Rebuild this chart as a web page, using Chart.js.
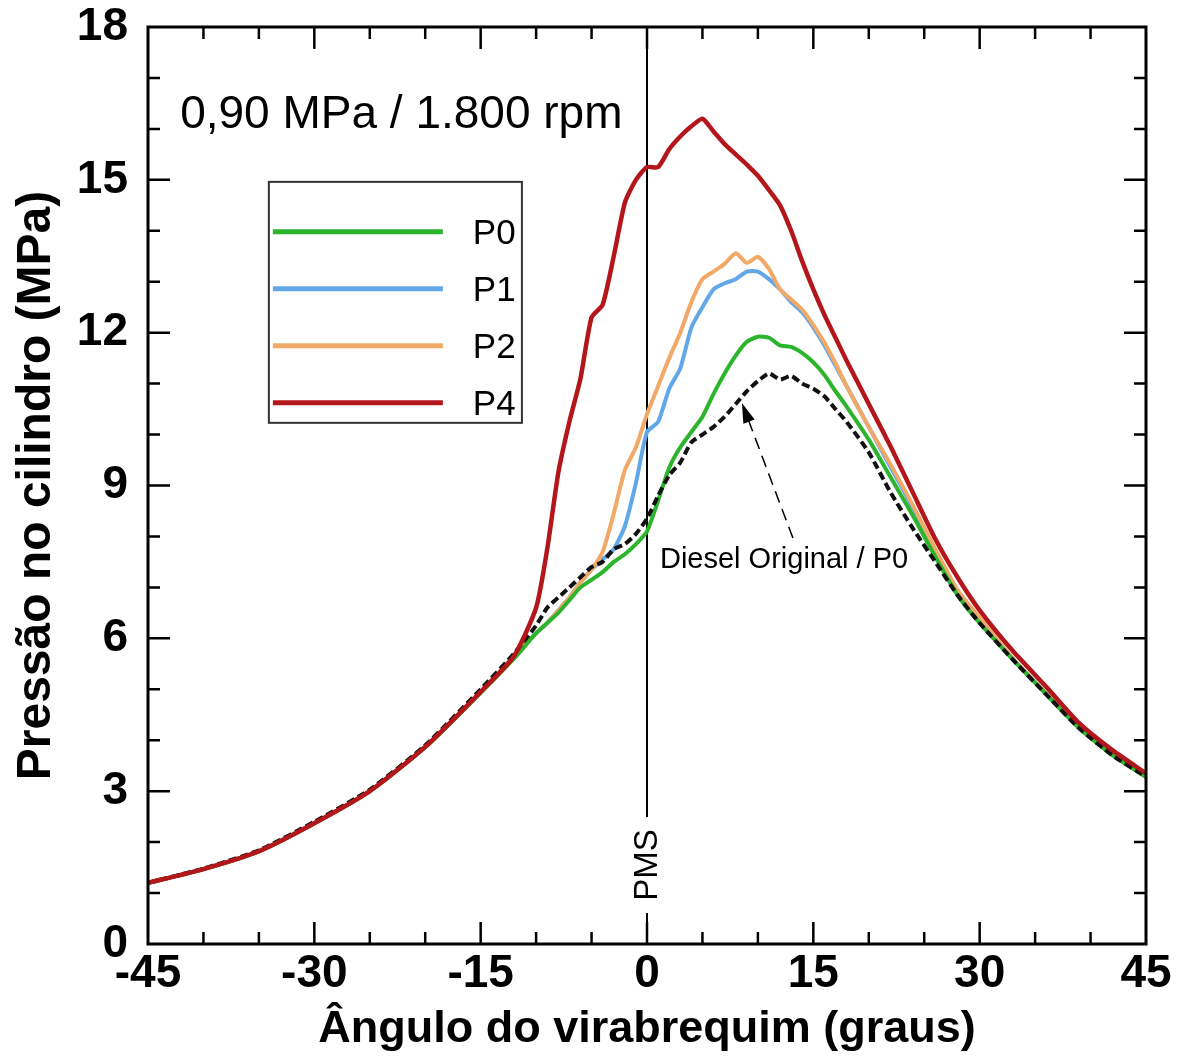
<!DOCTYPE html>
<html>
<head>
<meta charset="utf-8">
<script src="https://cdn.jsdelivr.net/npm/chart.js@4.4.0/dist/chart.umd.min.js"></script>
<style>
  body { margin: 0; background: #fff; }
</style>
</head>
<body>
<canvas id="chart1" width="1186" height="1059"></canvas>
<script>
// crank angle (graus) and cylinder pressure (MPa)
const angles = [-45, -40, -35, -30, -25, -20, -15, -12,
  -10, -9, -8, -7, -6, -5, -4, -3, -2, -1, 0, 1, 2, 3, 4, 5, 6, 7, 8, 9,
  10, 11, 12, 13, 14, 15, 16, 17, 18, 20, 22, 24, 26, 28, 30, 33, 36, 39, 42, 45];

const p0 = [1.2, 1.47, 1.82, 2.37, 3.0, 3.86, 4.93, 5.6,
  6.1, 6.3, 6.5, 6.75, 7.0, 7.15, 7.3, 7.5, 7.65, 7.85, 8.1, 8.7, 9.35, 9.75, 10.05, 10.35, 10.8, 11.2, 11.55, 11.82,
  11.92, 11.9, 11.75, 11.72, 11.6, 11.42, 11.17, 10.85, 10.55, 9.9, 9.15, 8.4, 7.6, 6.85, 6.3, 5.58, 4.9, 4.23, 3.7, 3.28];

const p1 = [1.2, 1.47, 1.82, 2.37, 3.0, 3.87, 4.95, 5.65,
  6.1, 6.3, 6.55, 6.8, 7.1, 7.35, 7.55, 7.75, 8.2, 9.05, 10.05, 10.25, 10.9, 11.3, 12.1, 12.5, 12.85, 12.97, 13.05, 13.2,
  13.2, 13.05, 12.85, 12.6, 12.4, 12.1, 11.75, 11.35, 10.95, 10.15, 9.35, 8.55, 7.7, 6.9, 6.38, 5.6, 4.92, 4.25, 3.72, 3.28];

const p2 = [1.2, 1.47, 1.82, 2.37, 3.0, 3.87, 4.95, 5.65,
  6.1, 6.3, 6.55, 6.8, 7.1, 7.35, 7.7, 8.45, 9.3, 9.75, 10.4, 10.95, 11.5, 12.0, 12.6, 13.05, 13.2, 13.35, 13.56, 13.37,
  13.49, 13.25, 12.85, 12.65, 12.45, 12.15, 11.8, 11.4, 10.95, 10.15, 9.4, 8.6, 7.75, 6.95, 6.4, 5.6, 4.92, 4.25, 3.72, 3.28];

const p4 = [1.2, 1.47, 1.82, 2.37, 3.0, 3.87, 4.95, 5.65,
  6.6, 7.75, 9.25, 10.25, 11.1, 12.3, 12.55, 13.5, 14.55, 15.0, 15.25, 15.25, 15.6, 15.85, 16.05, 16.2, 15.95, 15.7, 15.5, 15.3,
  15.08, 14.8, 14.5, 14.0, 13.4, 12.85, 12.35, 11.9, 11.45, 10.6, 9.75, 8.85, 7.95, 7.2, 6.55, 5.75, 5.05, 4.33, 3.8, 3.35];

const diesel = [1.2, 1.48, 1.84, 2.4, 3.03, 3.9, 5.0, 5.7,
  6.25, 6.6, 6.8, 7.0, 7.2, 7.4, 7.5, 7.75, 7.85, 8.05, 8.35, 8.8, 9.2, 9.45, 9.85, 10.0, 10.15, 10.35, 10.6, 10.85,
  11.05, 11.2, 11.08, 11.15, 11.0, 10.9, 10.75, 10.5, 10.25, 9.65, 8.85, 8.15, 7.5, 6.85, 6.3, 5.58, 4.9, 4.23, 3.7, 3.28];

const xTicks = [-45, -30, -15, 0, 15, 30, 45];
const yTicks = [0, 3, 6, 9, 12, 15, 18];

function pts(vals) {
    return angles.map(function(a, i) { return { x: a, y: vals[i] }; });
}

const FONT = '"Liberation Sans", Arial, Helvetica, sans-serif';

// frame, inward ticks, PMS line, annotations, legend box
const decorations = {
    id: 'decorations',
    beforeDatasetsDraw(chart) {
        const ctx = chart.ctx;
        const x = chart.scales.x;
        const a = chart.chartArea;
        ctx.save();
        // PMS line
        const x0 = x.getPixelForValue(0);
        ctx.strokeStyle = '#000';
        ctx.lineWidth = 2;
        ctx.beginPath();
        ctx.moveTo(x0, a.top);
        ctx.lineTo(x0, a.bottom);
        ctx.stroke();
        ctx.restore();
    },
    afterDraw(chart) {
        const ctx = chart.ctx;
        const x = chart.scales.x, y = chart.scales.y;
        const a = chart.chartArea;
        ctx.save();
        ctx.strokeStyle = '#000';
        ctx.lineWidth = 2.5;
        // x ticks, bottom and top
        for (let v = -40; v <= 40; v += 5) {
            const px = x.getPixelForValue(v);
            const len = (v % 15 === 0) ? 22 : 12;
            ctx.beginPath();
            ctx.moveTo(px, a.bottom); ctx.lineTo(px, a.bottom - len);
            ctx.moveTo(px, a.top); ctx.lineTo(px, a.top + len);
            ctx.stroke();
        }
        // y ticks, left and right
        for (let v = 1; v <= 17; v += 1) {
            const py = y.getPixelForValue(v);
            const len = (v % 3 === 0) ? 22 : 12;
            ctx.beginPath();
            ctx.moveTo(a.left, py); ctx.lineTo(a.left + len, py);
            ctx.moveTo(a.right, py); ctx.lineTo(a.right - len, py);
            ctx.stroke();
        }
        // frame
        ctx.lineWidth = 3;
        ctx.strokeRect(a.left, a.top, a.right - a.left, a.bottom - a.top);

        // PMS label over the vertical line
        const x0 = x.getPixelForValue(0);
        const yp = y.getPixelForValue(1.55);
        ctx.fillStyle = '#fff';
        ctx.fillRect(x0 - 14, yp - 48, 28, 96);
        ctx.translate(x0, yp);
        ctx.rotate(-Math.PI / 2);
        ctx.fillStyle = '#000';
        ctx.font = '33px ' + FONT;
        ctx.textAlign = 'center';
        ctx.textBaseline = 'middle';
        ctx.fillText('PMS', 0, 1);
        ctx.setTransform(1, 0, 0, 1, 0, 0);

        // condition text
        ctx.font = '46px ' + FONT;
        ctx.textAlign = 'left';
        ctx.textBaseline = 'alphabetic';
        ctx.fillText('0,90 MPa / 1.800 rpm', x.getPixelForValue(-42.1), y.getPixelForValue(16.02));

        // Diesel Original arrow
        const tx = x.getPixelForValue(13.16), ty = y.getPixelForValue(7.97);
        const hx = x.getPixelForValue(8.56), hy = y.getPixelForValue(10.62);
        const ang = Math.atan2(hy - ty, hx - tx);
        ctx.lineWidth = 1.5;
        ctx.setLineDash([12, 7]);
        ctx.beginPath();
        ctx.moveTo(tx, ty);
        ctx.lineTo(hx - 16 * Math.cos(ang), hy - 16 * Math.sin(ang));
        ctx.stroke();
        ctx.setLineDash([]);
        ctx.beginPath();
        ctx.moveTo(hx, hy);
        ctx.lineTo(hx - 20 * Math.cos(ang) + 6 * Math.sin(ang), hy - 20 * Math.sin(ang) - 6 * Math.cos(ang));
        ctx.lineTo(hx - 20 * Math.cos(ang) - 6 * Math.sin(ang), hy - 20 * Math.sin(ang) + 6 * Math.cos(ang));
        ctx.closePath();
        ctx.fill();
        ctx.font = '29px ' + FONT;
        ctx.fillText('Diesel Original / P0', x.getPixelForValue(1.17), y.getPixelForValue(7.38));

        // legend box
        const lx1 = x.getPixelForValue(-34.1), lx2 = x.getPixelForValue(-11.28);
        const ly1 = y.getPixelForValue(14.96), ly2 = y.getPixelForValue(10.23);
        ctx.fillStyle = '#fff';
        ctx.fillRect(lx1, ly1, lx2 - lx1, ly2 - ly1);
        ctx.strokeStyle = '#333';
        ctx.lineWidth = 2;
        ctx.strokeRect(lx1, ly1, lx2 - lx1, ly2 - ly1);
        const items = chart.data.datasets.filter(function(d) { return d.inLegend; });
        items.sort(function(p, q) { return p.legendPos - q.legendPos; });
        ctx.font = '35px ' + FONT;
        ctx.textBaseline = 'middle';
        items.forEach(function(d, i) {
            const ly = ly1 + 50 + i * 57;
            ctx.strokeStyle = d.borderColor;
            ctx.lineWidth = 5;
            ctx.beginPath();
            ctx.moveTo(lx1 + 4, ly);
            ctx.lineTo(lx1 + 174, ly);
            ctx.stroke();
            ctx.fillStyle = '#000';
            ctx.fillText(d.label, lx1 + 204, ly + 2);
        });
        ctx.restore();
    }
};

const ctx1 = document.getElementById('chart1').getContext('2d');
const chart1 = new Chart(ctx1, {
    type: 'line',
    data: {
        datasets: [
            {
                label: 'P4',
                data: pts(p4),
                borderColor: '#b3161b',
                borderWidth: 4.5,
                inLegend: true, legendPos: 3,
                order: 0
            },
            {
                label: 'Diesel Original / P0',
                data: pts(diesel),
                borderColor: '#111111',
                borderWidth: 4,
                borderDash: [8, 4],
                inLegend: false,
                order: 1
            },
            {
                label: 'P0',
                data: pts(p0),
                borderColor: '#2cb52c',
                borderWidth: 4,
                inLegend: true, legendPos: 0,
                order: 2
            },
            {
                label: 'P2',
                data: pts(p2),
                borderColor: '#f2a866',
                borderWidth: 4,
                inLegend: true, legendPos: 2,
                order: 3
            },
            {
                label: 'P1',
                data: pts(p1),
                borderColor: '#62a8e8',
                borderWidth: 4,
                inLegend: true, legendPos: 1,
                order: 4
            }
        ]
    },
    options: {
        responsive: false,
        animation: false,
        layout: { autoPadding: false, padding: { top: 27, right: 40, left: 0, bottom: 0 } },
        elements: { point: { radius: 0 }, line: { tension: 0.2 } },
        plugins: {
            legend: { display: false },
            tooltip: { enabled: false }
        },
        scales: {
            x: {
                type: 'linear',
                min: -45,
                max: 45,
                afterBuildTicks: function(s) { s.ticks = xTicks.map(function(v) { return { value: v }; }); },
                afterFit: function(s) {
                    s.height = 115;
                    s.paddingLeft = 0; s.paddingRight = 0;
                },
                grid: { display: false, drawTicks: false },
                border: { display: false },
                ticks: {
                    color: '#000',
                    padding: 3,
                    maxRotation: 0,
                    autoSkip: false,
                    font: { family: FONT, size: 46, weight: 'bold' }
                },
                title: {
                    display: true,
                    text: 'Ângulo do virabrequim (graus)',
                    color: '#000',
                    padding: { top: 0, bottom: 2 },
                    font: { family: FONT, size: 45, weight: 'bold' }
                }
            },
            y: {
                min: 0,
                max: 18,
                afterBuildTicks: function(s) { s.ticks = yTicks.map(function(v) { return { value: v }; }); },
                afterFit: function(s) {
                    s.width = 148;
                    s.paddingTop = 0; s.paddingBottom = 0;
                },
                grid: { display: false, drawTicks: false },
                border: { display: false },
                ticks: {
                    color: '#000',
                    padding: 20,
                    autoSkip: false,
                    font: { family: FONT, size: 46, weight: 'bold' }
                },
                title: {
                    display: true,
                    text: 'Pressão no cilindro (MPa)',
                    color: '#000',
                    padding: { top: 8, bottom: 0 },
                    font: { family: FONT, size: 48, weight: 'bold' }
                }
            }
        }
    },
    plugins: [decorations]
});
</script>
</body>
</html>
